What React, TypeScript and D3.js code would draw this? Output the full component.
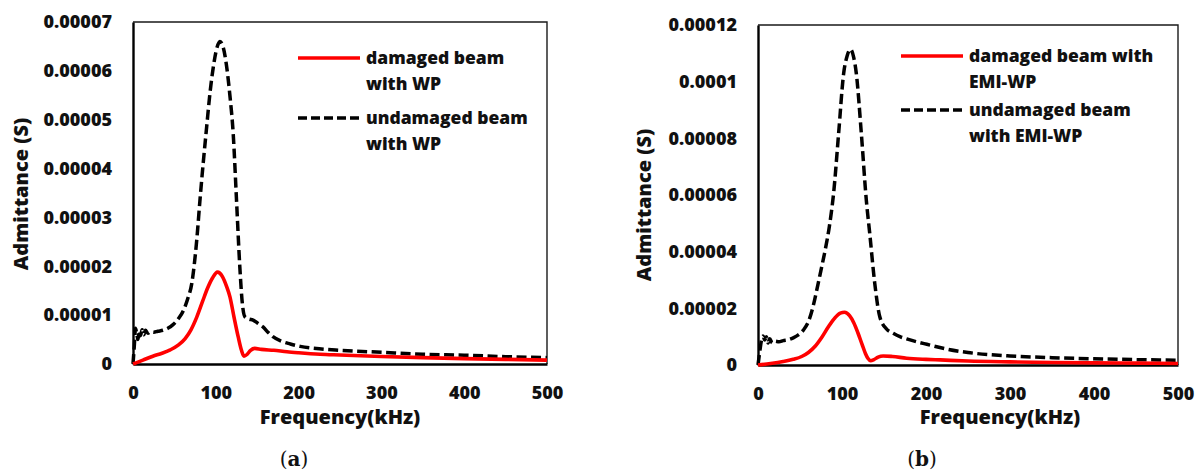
import React, { useEffect, useRef } from 'react'
import * as d3 from 'd3'

// x axis (kHz)
const freqTicks = [0, 100, 200, 300, 400, 500]

// y ticks for each panel
const yTicksA = [0, 0.00001, 0.00002, 0.00003, 0.00004, 0.00005, 0.00006, 0.00007]
const yLabelsA = ['0', '0.00001', '0.00002', '0.00003', '0.00004', '0.00005', '0.00006', '0.00007']
const yTicksB = [0, 0.00002, 0.00004, 0.00006, 0.00008, 0.0001, 0.00012]
const yLabelsB = ['0', '0.00002', '0.00004', '0.00006', '0.00008', '0.0001', '0.00012']

// (a) damaged beam with WP
const damagedFreqA = [0, 12, 24, 35, 45, 55, 63, 70, 77, 84, 90, 96, 102, 108, 113, 117, 122, 127, 131, 134, 138, 142, 147, 155, 170, 186, 200, 226, 250, 300, 350, 400, 450, 500]
const damagedValA = [0, 0.8e-6, 1.6e-6, 2.2e-6, 2.9e-6, 3.9e-6, 5.2e-6, 7.0e-6, 9.6e-6, 12.8e-6, 15.5e-6, 17.6e-6, 18.8e-6, 17.9e-6, 15.9e-6, 13.8e-6, 9.6e-6, 5.6e-6, 2.8e-6, 1.6e-6, 2.0e-6, 2.8e-6, 3.2e-6, 3.0e-6, 2.8e-6, 2.5e-6, 2.3e-6, 2.0e-6, 1.85e-6, 1.55e-6, 1.3e-6, 1.1e-6, 0.95e-6, 0.8e-6]

// (a) undamaged beam with WP
const undamagedFreqA = [0, 1.5, 3, 4.5, 6, 7.5, 9, 11, 13, 15, 18, 21, 25, 30, 36, 42, 48, 55, 61, 66, 71, 77, 81, 85, 89, 93, 97, 101, 105, 109, 113, 117, 121, 125, 129, 132, 135, 140, 145, 151, 157, 163, 169, 180, 190, 202, 225, 250, 300, 350, 400, 450, 500]
const undamagedValA = [0, 3.5e-6, 7.3e-6, 6.2e-6, 5.0e-6, 6.8e-6, 5.8e-6, 7.0e-6, 6.0e-6, 6.9e-6, 6.3e-6, 6.6e-6, 6.5e-6, 6.7e-6, 6.9e-6, 7.3e-6, 8.0e-6, 9.3e-6, 11.0e-6, 13.3e-6, 16.5e-6, 25.4e-6, 33.8e-6, 41.5e-6, 48.6e-6, 55.5e-6, 60.8e-6, 64.5e-6, 66.0e-6, 64.8e-6, 61.0e-6, 55.0e-6, 47.2e-6, 33.6e-6, 19.9e-6, 12.5e-6, 9.7e-6, 9.2e-6, 9.0e-6, 8.3e-6, 7.6e-6, 6.5e-6, 5.6e-6, 4.6e-6, 4.1e-6, 3.6e-6, 3.1e-6, 2.8e-6, 2.4e-6, 2.0e-6, 1.8e-6, 1.5e-6, 1.3e-6]

// (b) damaged beam with EMI-WP
const damagedFreqB = [0, 15, 30, 42, 52, 60, 68, 76, 84, 92, 98, 103, 109, 114, 119, 124, 128, 131, 134, 138, 143, 149, 160, 177, 200, 217, 250, 300, 350, 400, 450, 500]
const damagedValB = [0, 0.5e-6, 1.2e-6, 2.0e-6, 3.0e-6, 4.4e-6, 6.6e-6, 9.8e-6, 13.6e-6, 16.8e-6, 18.3e-6, 18.6e-6, 17.4e-6, 14.9e-6, 11.3e-6, 7.2e-6, 4.0e-6, 2.3e-6, 1.5e-6, 1.9e-6, 2.8e-6, 3.2e-6, 3.0e-6, 2.4e-6, 2.0e-6, 1.8e-6, 1.4e-6, 1.1e-6, 0.9e-6, 0.75e-6, 0.65e-6, 0.55e-6]

// (b) undamaged beam with EMI-WP
const undamagedFreqB = [0, 2, 4, 6, 8, 10, 12, 14, 17, 20, 25, 30, 36, 42, 48, 54, 60, 65, 70, 75, 80, 85, 90, 96, 102, 106, 110, 114, 117, 123, 129, 133, 139, 145, 153, 161, 169, 177, 190, 201, 225, 250, 300, 350, 400, 450, 500]
const undamagedValB = [0, 4.5e-6, 8.5e-6, 10.2e-6, 8.8e-6, 10.0e-6, 7.8e-6, 9.3e-6, 7.8e-6, 8.4e-6, 8.2e-6, 8.6e-6, 8.9e-6, 9.6e-6, 10.6e-6, 12.3e-6, 15.3e-6, 20.0e-6, 26.5e-6, 33.5e-6, 40.6e-6, 49.0e-6, 60.6e-6, 81.8e-6, 103.0e-6, 109.0e-6, 111.4e-6, 108.5e-6, 103.0e-6, 81.8e-6, 58.0e-6, 46.5e-6, 28.8e-6, 17.0e-6, 12.7e-6, 11.2e-6, 10.0e-6, 9.2e-6, 8.1e-6, 7.3e-6, 5.6e-6, 4.4e-6, 3.2e-6, 2.6e-6, 2.2e-6, 1.9e-6, 1.7e-6]

const legendA = [['damaged beam', 'with WP'], ['undamaged beam', 'with WP']]
const legendB = [['damaged beam with', 'EMI-WP'], ['undamaged beam', 'with EMI-WP']]

const FONT = "'Open Sans', 'DejaVu Sans', sans-serif"
const DASH = '10,4.5'

function drawPanel(g: any, p: any) {
  const x = d3.scaleLinear().domain([0, 500]).range([p.left, p.right])
  const y = d3.scaleLinear().domain([0, p.yTicks[p.yTicks.length - 1]]).range([p.bottom, p.top])

  // thin frame on top and right
  g.append('path')
    .attr('d', `M${p.left},${p.top}H${p.right}V${p.bottom}`)
    .attr('fill', 'none')
    .attr('stroke', '#1a1a1a')
    .attr('stroke-width', 1.4)

  // y axis
  const yAxis = d3.axisLeft(y)
    .tickValues(p.yTicks)
    .tickSize(0)
    .tickSizeOuter(0)
    .tickPadding(21)
    .tickFormat((d: any, i: number) => p.yLabels[i])
  const ya = g.append('g')
    .attr('transform', `translate(${p.left},0)`)
    .call(yAxis)
    .attr('font-family', FONT)
    .attr('font-size', 18)
    .attr('font-weight', 800)
  ya.select('.domain').attr('stroke', '#000').attr('stroke-width', 2.4)
  ya.selectAll('text').attr('fill', '#111')

  // x axis
  const xAxis = d3.axisBottom(x)
    .tickValues(freqTicks)
    .tickSize(0)
    .tickSizeOuter(0)
    .tickPadding(22)
    .tickFormat(d3.format('d'))
  const xa = g.append('g')
    .attr('transform', `translate(0,${p.bottom})`)
    .call(xAxis)
    .attr('font-family', FONT)
    .attr('font-size', 18)
    .attr('font-weight', 800)
  xa.select('.domain').attr('stroke', '#000').attr('stroke-width', 2.4)
  xa.selectAll('text').attr('fill', '#111')

  // axis titles
  g.append('text')
    .attr('x', p.xTitleX)
    .attr('y', 417)
    .attr('dy', '0.35em')
    .attr('text-anchor', 'middle')
    .attr('font-family', FONT)
    .attr('font-size', 20)
    .attr('font-weight', 800)
    .attr('fill', '#111')
    .text('Frequency(kHz)')

  g.append('text')
    .attr('transform', `translate(${p.yTitleX},${p.yTitleY}) rotate(-90)`)
    .attr('dy', '0.35em')
    .attr('text-anchor', 'middle')
    .attr('font-family', FONT)
    .attr('font-size', 20)
    .attr('font-weight', 800)
    .attr('fill', '#111')
    .text('Admittance (S)')

  // lines
  const line = d3.line<[number, number]>()
    .x(d => x(d[0]))
    .y(d => y(d[1]))
    .curve(d3.curveMonotoneX)

  g.append('path')
    .datum(d3.zip(p.undamagedFreq, p.undamagedVal))
    .attr('fill', 'none')
    .attr('stroke', '#000')
    .attr('stroke-width', 3.5)
    .attr('stroke-dasharray', DASH)
    .attr('d', line)

  g.append('path')
    .datum(d3.zip(p.damagedFreq, p.damagedVal))
    .attr('fill', 'none')
    .attr('stroke', '#ff0000')
    .attr('stroke-width', 3.6)
    .attr('stroke-linejoin', 'round')
    .attr('d', line)

  // legend
  const styles = [{ stroke: '#ff0000', dash: null }, { stroke: '#000', dash: '9,4' }]
  p.legend.forEach((lines: string[], i: number) => {
    const ly = p.legendY[i]
    g.append('line')
      .attr('x1', p.legendX)
      .attr('x2', p.legendX + 62)
      .attr('y1', ly)
      .attr('y2', ly)
      .attr('stroke', styles[i].stroke)
      .attr('stroke-width', 3.5)
      .attr('stroke-dasharray', styles[i].dash)
    const t = g.append('text')
      .attr('font-family', FONT)
      .attr('font-size', 17.5)
      .attr('font-weight', 800)
      .attr('fill', '#111')
    lines.forEach((s, j) => {
      t.append('tspan')
        .attr('x', p.legendX + 68)
        .attr('y', ly + j * 26)
        .attr('dy', '0.35em')
        .text(s)
    })
  })

  // panel caption
  const cap = g.append('text')
    .attr('x', p.capX)
    .attr('y', 459)
    .attr('dy', '0.35em')
    .attr('text-anchor', 'middle')
    .attr('font-family', "'DejaVu Serif', 'Liberation Serif', serif")
    .attr('font-size', 20)
    .attr('fill', '#111')
  cap.append('tspan').text('(')
  cap.append('tspan').attr('font-weight', 700).text(p.cap)
  cap.append('tspan').text(')')
}

export default function App() {
  const svgRef = useRef<SVGSVGElement>(null)

  useEffect(() => {
    const svg = d3.select(svgRef.current)
    svg.selectAll('*').remove()

    drawPanel(svg.append('g'), {
      left: 133, right: 547, top: 22, bottom: 364,
      yTicks: yTicksA, yLabels: yLabelsA,
      damagedFreq: damagedFreqA, damagedVal: damagedValA,
      undamagedFreq: undamagedFreqA, undamagedVal: undamagedValA,
      legend: legendA, legendX: 298, legendY: [58, 118],
      xTitleX: 340, yTitleX: 21, yTitleY: 194,
      capX: 294, cap: 'a',
    })

    drawPanel(svg.append('g'), {
      left: 758, right: 1178, top: 25, bottom: 365,
      yTicks: yTicksB, yLabels: yLabelsB,
      damagedFreq: damagedFreqB, damagedVal: damagedValB,
      undamagedFreq: undamagedFreqB, undamagedVal: undamagedValB,
      legend: legendB, legendX: 901, legendY: [56, 110],
      xTitleX: 1000, yTitleX: 644, yTitleY: 205,
      capX: 922, cap: 'b',
    })
  }, [])

  return (
    <svg
      ref={svgRef}
      width={1202}
      height={473}
      style={{ position: 'absolute', left: 0, top: 0, background: '#fff' }}
    />
  )
}
